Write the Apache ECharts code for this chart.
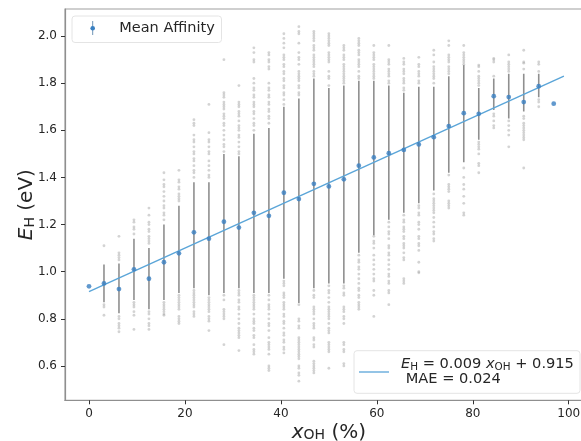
<!DOCTYPE html>
<html><head><meta charset="utf-8">
<style>html,body{margin:0;padding:0;background:#fff}#c{width:581px;height:441px;filter:blur(.45px)}</style>
<script src="https://cdn.jsdelivr.net/npm/echarts@6/dist/echarts.min.js"></script></head>
<body><div id="c"></div>
<script>
const xOH=[0,3.125,6.25,9.375,12.5,15.625,18.75,21.875,25,28.125,31.25,34.375,37.5,40.625,43.75,46.875,50,53.125,56.25,59.375,62.5,65.625,68.75,71.875,75,78.125,81.25,84.375,87.5,90.625,93.75,96.875];
const meanAffinity=[.938,.95,.926,1.01,.97,1.04,1.078,1.167,1.14,1.212,1.187,1.25,1.237,1.335,1.308,1.373,1.362,1.392,1.45,1.485,1.503,1.517,1.54,1.571,1.618,1.673,1.67,1.745,1.741,1.72,1.787,1.713];
const coreLow=[null,.87,.823,.88,.84,.88,.91,.93,.90,.91,.93,.91,.91,.97,.867,.93,.95,.95,1.08,1.155,1.22,1.25,1.29,1.345,1.42,1.465,1.56,1.686,1.65,1.68,1.74,null];
const coreHigh=[null,1.03,1.035,1.14,1.10,1.2,1.28,1.38,1.38,1.50,1.49,1.585,1.61,1.70,1.735,1.82,1.78,1.79,1.81,1.81,1.79,1.76,1.785,1.785,1.83,1.877,1.78,1.82,1.84,1.84,1.84,null];
const tailDots=[[],
[1.11,.86,.85,.815],
[1.15,1.08,1.07,1.06,1.05,.81,.80,.78,.77,.76,.745],
[1.22,1.21,1.19,1.18,1.16,.87,.86,.85,.83,.815,.755],
[1.27,1.24,1.21,1.2,1.18,1.17,1.15,1.14,1.13,1.12,.83,.82,.80,.78,.77,.755],
[1.42,1.39,1.37,1.36,1.34,1.32,1.30,1.28,1.27,1.25,1.24,1.22,.87,.86,.85,.84,.83,.82,.815],
[1.43,1.39,1.38,1.36,1.35,1.33,1.32,1.31,1.30,.90,.89,.88,.87,.86,.85,.84,.81,.80,.79,.78],
[1.645,1.63,1.62,1.58,1.56,1.55,1.53,1.51,1.50,1.48,1.47,1.45,1.43,1.42,1.40,.92,.91,.90,.89,.88,.87,.86,.85,.83,.82,.81],
[1.71,1.59,1.56,1.55,1.53,1.51,1.50,1.47,1.45,1.43,1.41,1.40,.89,.88,.87,.86,.85,.84,.83,.81,.80,.79,.75],
[1.90,1.76,1.75,1.74,1.72,1.71,1.70,1.69,1.67,1.66,1.65,1.63,1.62,1.60,1.58,1.56,1.54,1.53,1.51,.90,.88,.84,.83,.82,.81,.80,.69],
[1.79,1.72,1.71,1.70,1.68,1.67,1.66,1.64,1.62,1.61,1.60,1.58,1.57,1.55,1.53,1.51,1.50,.92,.91,.90,.88,.87,.85,.84,.82,.80,.78,.76,.75,.74,.73,.72,.665],
[1.95,1.93,1.90,1.89,1.82,1.80,1.78,1.77,1.75,1.74,1.72,1.71,1.70,1.68,1.67,1.65,1.63,1.62,1.60,.90,.89,.88,.87,.86,.85,.84,.82,.80,.79,.78,.76,.75,.73,.72,.69,.67,.66,.65],
[1.93,1.92,1.90,1.89,1.87,1.86,1.80,1.78,1.77,1.75,1.74,1.72,1.71,1.69,1.68,1.66,1.65,1.63,.90,.88,.86,.85,.84,.82,.80,.78,.77,.75,.72,.70,.69,.68,.67,.65,.60,.59,.58],
[2.01,1.99,1.97,1.95,1.92,1.91,1.90,1.88,1.87,1.85,1.84,1.82,1.81,1.79,1.78,1.76,1.75,1.73,1.71,.96,.95,.94,.91,.90,.89,.87,.86,.85,.84,.82,.81,.79,.78,.76,.74,.73,.71,.70,.68,.67,.655],
[2.04,2.02,2.01,1.97,1.93,1.91,1.90,1.88,1.85,1.84,1.83,1.82,1.81,1.79,1.78,1.76,1.75,.86,.80,.79,.77,.76,.72,.71,.70,.69,.68,.67,.66,.65,.64,.63,.60,.59,.57,.56,.535],
[2.02,2.01,2.0,1.99,1.98,1.96,1.95,1.94,1.92,1.91,1.90,1.89,1.88,1.87,1.85,1.84,1.83,.92,.90,.89,.85,.84,.83,.82,.80,.78,.77,.76,.72,.71,.69,.68,.62,.61,.60,.59,.58,.57],
[2.01,2.0,1.99,1.98,1.97,1.96,1.93,1.92,1.91,1.90,1.89,1.85,1.83,1.82,1.79,.94,.92,.91,.89,.87,.85,.84,.83,.82,.81,.80,.78,.76,.75,.74,.70,.69,.68,.67,.66,.59],
[1.96,1.95,1.94,1.92,1.91,1.90,1.88,1.87,1.86,1.85,1.84,1.83,1.82,1.81,1.80,.94,.93,.91,.90,.85,.84,.83,.81,.80,.78,.70,.69,.67,.66,.61,.60],
[1.99,1.98,1.97,1.96,1.94,1.93,1.92,1.90,1.89,1.88,1.87,1.85,1.83,1.82,1.07,1.05,1.04,1.02,1.01,.99,.97,.95,.93,.92,.90,.89,.87,.86,.85,.84],
[1.96,1.93,1.92,1.91,1.90,1.88,1.87,1.86,1.85,1.84,1.83,1.82,1.15,1.13,1.12,1.10,1.07,1.05,1.03,1.01,.99,.97,.96,.92,.90,.81],
[1.96,1.90,1.89,1.88,1.86,1.85,1.84,1.83,1.81,1.80,1.21,1.19,1.17,1.16,1.14,1.11,1.10,1.08,1.07,1.05,1.03,1.01,.99,.98,.96,.95,.92,.91,.86],
[1.905,1.89,1.88,1.86,1.85,1.84,1.82,1.81,1.80,1.78,1.77,1.24,1.22,1.21,1.19,1.18,1.17,1.15,1.14,1.12,1.11,1.10,1.08,1.06,1.05,.97,.96,.95],
[1.91,1.88,1.87,1.85,1.84,1.83,1.81,1.80,1.28,1.27,1.25,1.24,1.21,1.20,1.18,1.15,1.14,1.12,1.11,1.09,1.04,1.0,.995],
[1.94,1.92,1.89,1.87,1.86,1.85,1.84,1.83,1.82,1.80,1.33,1.31,1.30,1.29,1.28,1.27,1.26,1.25,1.23,1.21,1.19,1.17,1.16,1.14,1.13],
[1.98,1.96,1.92,1.91,1.90,1.89,1.87,1.86,1.85,1.84,1.41,1.37,1.36,1.35,1.34,1.30,1.29,1.28,1.27],
[1.96,1.93,1.92,1.91,1.90,1.89,1.88,1.44,1.40,1.37,1.35,1.32,1.29,1.25,1.24],
[1.877,1.87,1.85,1.83,1.82,1.81,1.80,1.79,1.55,1.54,1.53,1.52,1.50,1.46,1.45,1.42],
[1.905,1.90,1.89,1.83,1.67,1.66,1.64,1.62,1.61],
[1.92,1.89,1.88,1.87,1.86,1.85,1.64,1.62,1.60,1.58,1.53],
[1.94,1.89,1.885,1.86,1.66,1.65,1.63,1.62,1.61,1.60,1.59,1.58,1.57,1.56,1.44],
[1.89,1.88,1.85,1.73,1.72,1.70],
[]];
const fitLine=[[0,.915],[99,1.83]];
const xTicks=[0,20,40,60,80,100];
const yTicks=[.6,.8,1.0,1.2,1.4,1.6,1.8,2.0];
const legendMean='Mean Affinity';
const FONT='DejaVu Sans', BLUE='#3a80c2', LINE='#5aa5d8', TXT='#262626';
const dots=[];tailDots.forEach((a,i)=>a.forEach(v=>dots.push([xOH[i],v])));
const cores=xOH.map((x,i)=>[x,coreLow[i],coreHigh[i]]).filter(d=>d[1]!==null);
const chart=echarts.init(document.getElementById('c'),null,{renderer:'canvas'});
chart.setOption({
 animation:false,
 grid:{left:65,top:9,right:-11.7,bottom:40.7,containLabel:false,outerBoundsMode:'none',show:true,borderColor:'#a0a0a0',borderWidth:1.2,backgroundColor:'transparent'},
 xAxis:{type:'value',min:-5,max:105,
  axisLine:{onZero:false,lineStyle:{color:'#8f8f8f',width:1.2}},
  axisTick:{customValues:xTicks,length:4,lineStyle:{color:'#333'}},
  axisLabel:{customValues:xTicks,fontFamily:FONT,fontSize:12,color:TXT,margin:8},
  splitLine:{show:false},
  nameLocation:'middle',nameGap:18,nameMoveOverlap:false,
  name:'{i|x}{s|OH}{n| (%)}',
  nameTextStyle:{rich:{
   i:{fontFamily:FONT,fontStyle:'italic',fontSize:20,color:TXT,lineHeight:24,verticalAlign:'bottom'},
   s:{fontFamily:FONT,fontSize:14,color:TXT,lineHeight:20,verticalAlign:'bottom'},
   n:{fontFamily:FONT,fontSize:20,color:TXT,lineHeight:24,verticalAlign:'bottom'}}}},
 yAxis:{type:'value',min:.454,max:2.115,
  axisLine:{onZero:false,lineStyle:{color:'#8f8f8f',width:1.2}},
  axisTick:{customValues:yTicks,length:4,lineStyle:{color:'#333'}},
  axisLabel:{customValues:yTicks,fontFamily:FONT,fontSize:12,color:TXT,margin:8,formatter:v=>v.toFixed(1)},
  splitLine:{show:false},
  nameLocation:'middle',nameGap:28,nameRotate:90,nameMoveOverlap:false,
  name:'{i|E}{s|H}{n| (eV)}',
  nameTextStyle:{rich:{
   i:{fontFamily:FONT,fontStyle:'italic',fontSize:20,color:TXT,lineHeight:24,verticalAlign:'bottom'},
   s:{fontFamily:FONT,fontSize:14,color:TXT,lineHeight:20,verticalAlign:'bottom'},
   n:{fontFamily:FONT,fontSize:20,color:TXT,lineHeight:24,verticalAlign:'bottom'}}}},
 series:[
  {type:'custom',data:cores,z:2,silent:true,clip:true,encode:{x:0,y:[1,2]},
   renderItem:(p,api)=>{const a=api.coord([api.value(0),api.value(1)]),b=api.coord([api.value(0),api.value(2)]);
    return {type:'line',shape:{x1:a[0],y1:a[1],x2:b[0],y2:b[1]},style:{stroke:'#8f8f8f',lineWidth:1.6}};}},
  {type:'scatter',data:dots,symbolSize:2.8,z:2,silent:true,itemStyle:{color:'#a8a8a8',opacity:.5}},
  {type:'line',data:fitLine,showSymbol:false,z:3,silent:true,lineStyle:{color:LINE,width:1.4}},
  {type:'scatter',data:xOH.map((x,i)=>[x,meanAffinity[i]]),symbolSize:4.8,z:4,silent:true,itemStyle:{color:BLUE}}
 ],
 graphic:[
  {type:'rect',z:10,shape:{x:72,y:16,width:149.5,height:26.5,r:3},style:{fill:'rgba(255,255,255,.8)',stroke:'#e4e4e4'}},
  {type:'line',z:11,shape:{x1:92.7,y1:21,x2:92.7,y2:35},style:{stroke:'#6f94b5',lineWidth:1}},
  {type:'circle',z:11,shape:{cx:92.7,cy:28.3,r:2.3},style:{fill:BLUE}},
  {type:'text',z:11,x:119.3,y:28.3,style:{text:legendMean,font:'14.5px "DejaVu Sans"',fill:TXT,verticalAlign:'middle'}},
  {type:'rect',z:10,shape:{x:354,y:350.7,width:226,height:42.6,r:3},style:{fill:'rgba(255,255,255,.9)',stroke:'#e4e4e4'}},
  {type:'line',z:11,shape:{x1:359,y1:372,x2:389,y2:372},style:{stroke:LINE,lineWidth:1.3}},
  {type:'text',z:11,x:401,y:363,style:{text:'{i|E}{s|H}{n| = 0.009 }{i|x}{s|OH}{n| + 0.915}',verticalAlign:'middle',rich:{
    i:{fontFamily:FONT,fontStyle:'italic',fontSize:14.6,fill:TXT,lineHeight:18,verticalAlign:'bottom'},
    s:{fontFamily:FONT,fontSize:10.4,fill:TXT,lineHeight:14,verticalAlign:'bottom'},
    n:{fontFamily:FONT,fontSize:14.6,fill:TXT,lineHeight:18,verticalAlign:'bottom'}}}},
  {type:'text',z:11,x:405.7,y:379.5,style:{text:'MAE = 0.024',font:'14.6px "DejaVu Sans"',fill:TXT,verticalAlign:'middle'}}
 ]
});
</script></body></html>
